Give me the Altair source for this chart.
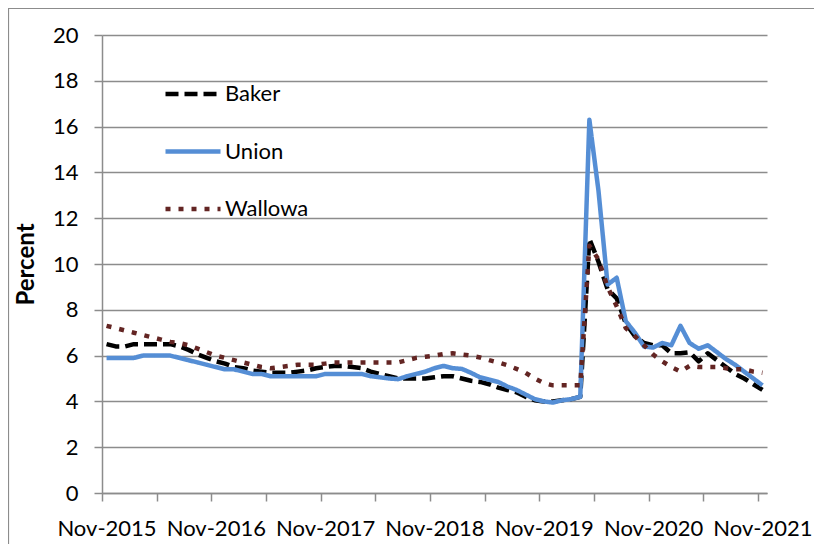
import json
import altair as alt
import pandas as pd

# ---- data ----
series_names = ["Baker", "Union", "Wallowa"]

# monthly values, Nov-2015 .. Nov-2021 (73 months)
baker = [6.5, 6.4, 6.4, 6.5, 6.5, 6.5, 6.5, 6.5, 6.4, 6.25,
         6.05, 5.9, 5.75, 5.65, 5.5, 5.45, 5.35, 5.3, 5.25, 5.25,
         5.25, 5.3, 5.35, 5.45, 5.5, 5.55, 5.55, 5.5, 5.45, 5.3,
         5.2, 5.1, 5.0, 5.0, 5.0, 5.0, 5.05, 5.1, 5.1, 5.0,
         4.9, 4.85, 4.75, 4.6, 4.5, 4.4, 4.2, 4.05, 4.0, 4.0,
         4.05, 4.1, 4.2, 11.1, 10.1, 8.9, 8.5, 7.4, 6.85, 6.55,
         6.45, 6.45, 6.1, 6.1, 6.15, 5.75, 6.1, 5.8, 5.5, 5.2,
         5.0, 4.75, 4.5]

union = [5.9, 5.9, 5.9, 5.9, 6.0, 6.0, 6.0, 6.0, 5.9, 5.8,
         5.7, 5.6, 5.5, 5.4, 5.4, 5.3, 5.2, 5.2, 5.1, 5.1,
         5.1, 5.1, 5.1, 5.1, 5.2, 5.2, 5.2, 5.2, 5.2, 5.1,
         5.05, 5.0, 4.97, 5.1, 5.2, 5.3, 5.45, 5.55, 5.45, 5.42,
         5.25, 5.05, 4.95, 4.85, 4.65, 4.5, 4.3, 4.1, 4.0, 3.95,
         4.05, 4.1, 4.2, 16.3, 13.2, 9.1, 9.4, 7.5, 7.0, 6.4,
         6.35, 6.55, 6.45, 7.3, 6.55, 6.3, 6.45, 6.15, 5.85, 5.6,
         5.3, 5.0, 4.7]

wallowa = [7.3, 7.2, 7.1, 7.0, 6.9, 6.8, 6.7, 6.6, 6.55, 6.45,
           6.3, 6.15, 6.0, 5.9, 5.8, 5.7, 5.6, 5.5, 5.45, 5.5,
           5.55, 5.6, 5.6, 5.6, 5.65, 5.7, 5.7, 5.7, 5.7, 5.7,
           5.7, 5.7, 5.7, 5.8, 5.9, 5.95, 6.0, 6.07, 6.1, 6.05,
           6.0, 5.92, 5.8, 5.7, 5.58, 5.42, 5.25, 5.0, 4.8, 4.7,
           4.7, 4.7, 4.7, 10.8, 10.2, 9.0, 8.15, 7.2, 6.85, 6.45,
           6.05, 5.75, 5.5, 5.3, 5.55, 5.5, 5.5, 5.5, 5.45, 5.4,
           5.4, 5.3, 5.25]

months = [d.strftime("%b-%Y") for d in pd.date_range("2015-11-01", periods=len(baker), freq="MS")]

# tick every 6 months, labelled once a year
tick_labels = ["Nov-2015", "", "Nov-2016", "", "Nov-2017", "", "Nov-2018", "",
               "Nov-2019", "", "Nov-2020", "", "Nov-2021"]
y_ticks = [0, 2, 4, 6, 8, 10, 12, 14, 16, 18, 20]

colors = ["#000000", "#558ED5", "#632523"]
dashes = [[13, 6], [1, 0], [5, 8]]

rows = []
for name, vals in zip(series_names, [baker, union, wallowa]):
    for i, v in enumerate(vals):
        rows.append({"series": name, "month": months[i], "idx": i + 0.5, "value": v})
df = pd.DataFrame(rows)

FONT = "Lato"
GRID = "#8c8c8c"

label_expr = json.dumps(tick_labels) + "[round(datum.value / 6)]"


def make_legend():
    return alt.Legend(orient="none", legendX=61, legendY=29, title=None,
                      symbolType="stroke", symbolSize=3025,
                      symbolStrokeWidth=4.5, rowPadding=16.5,
                      labelOffset=2, padding=0,
                      labelFontSize=22, labelFont=FONT,
                      labelColor="#000000")


lines = alt.Chart(df).mark_line(strokeWidth=4.5, strokeJoin="round").encode(
    x=alt.X("idx:Q",
            scale=alt.Scale(domain=[0, 73], nice=False, zero=False),
            axis=alt.Axis(values=list(range(0, 73, 6)), labelExpr=label_expr,
                          title=None, grid=False, labelOffset=4.5,
                          labelOverlap=False, labelFlush=False, labelBound=False,
                          tickSize=8, labelPadding=17)),
    y=alt.Y("value:Q",
            scale=alt.Scale(domain=[0, 20], nice=False),
            axis=alt.Axis(values=y_ticks, title="Percent", grid=True,
                          tickSize=8, labelPadding=16,
                          titleAngle=-90, titleX=-69, titleY=229,
                          titleAlign="center", titleBaseline="alphabetic",
                          titleFontSize=24, titleFontWeight="bold")),
    color=alt.Color("series:N",
                    scale=alt.Scale(domain=series_names, range=colors),
                    legend=make_legend()),
    strokeDash=alt.StrokeDash("series:N",
                              scale=alt.Scale(domain=series_names, range=dashes),
                              legend=make_legend()),
    detail="series:N",
)

frame = alt.Chart(pd.DataFrame({"k": [0]})).mark_rect(
    fill=None, stroke="#8c8c8c", strokeWidth=1.2
).encode(x=alt.value(-93.5), x2=alt.value(2000), y=alt.value(-26.5), y2=alt.value(2000))

chart = alt.layer(frame, lines).properties(
    width=665, height=458,
    background="white",
    autosize=alt.AutoSizeParams(type="none"),
    padding={"left": 94, "top": 27, "right": 47, "bottom": 51},
).configure_view(stroke=None).configure_axis(
    labelFont=FONT, titleFont=FONT, labelFontSize=22, labelColor="#000000",
    titleColor="#000000", domainColor=GRID, tickColor=GRID, gridColor=GRID,
    domainWidth=1.5, tickWidth=1.5, gridWidth=1.5,
)

chart.save("out.html", embed_options={"renderer": "svg", "actions": False})
